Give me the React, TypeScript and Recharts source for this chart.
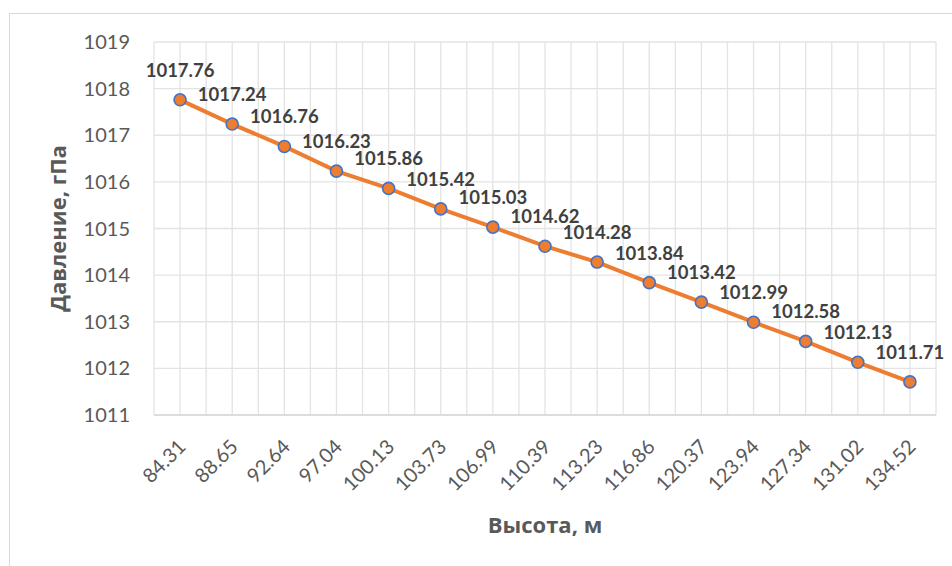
import { CartesianGrid, LabelList, Line, LineChart, XAxis, YAxis } from 'recharts';

const heights = [
  '84.31', '88.65', '92.64', '97.04', '100.13', '103.73', '106.99', '110.39',
  '113.23', '116.86', '120.37', '123.94', '127.34', '131.02', '134.52',
];
const pressures = [
  1017.76, 1017.24, 1016.76, 1016.23, 1015.86, 1015.42, 1015.03, 1014.62,
  1014.28, 1013.84, 1013.42, 1012.99, 1012.58, 1012.13, 1011.71,
];
const pressureTicks = [1011, 1012, 1013, 1014, 1015, 1016, 1017, 1018, 1019];

const data = heights.map((height, idx) => ({ idx, height, pressure: pressures[idx] }));
// category centres plus the boundaries between them (for the grid)
const xTicks = [...heights.flatMap((_, i) => [i - 0.5, i]), heights.length - 0.5];

const TICK_FONT = 'Lato, "Open Sans", sans-serif';
const TITLE_FONT = '"Open Sans", "Noto Sans", sans-serif';

function HeightTick({ x, y, payload }: { x: number; y: number; payload: { value: number } }) {
  if (!Number.isInteger(payload.value)) return <g />;
  return (
    <g transform={`translate(${x + 7},${y + 33})`}>
      <text
        x={0}
        y={0}
        textAnchor="end"
        transform="rotate(-45)"
        fill="#595959"
        fontSize={20}
        fontFamily={TICK_FONT}
      >
        {heights[payload.value]}
      </text>
    </g>
  );
}

export default function App() {
  return (
    <div style={{ position: 'absolute', left: 0, top: 0, width: 952, height: 566, background: '#fff' }}>
      <div
        style={{
          position: 'absolute',
          left: 9,
          top: 13,
          right: 0,
          bottom: 0,
          borderLeft: '1.5px solid #d9d9d9',
          borderTop: '1.5px solid #d9d9d9',
        }}
      />
      <LineChart
        width={952}
        height={566}
        data={data}
        margin={{ top: 42, right: 16, bottom: 0, left: 0 }}
        style={{ position: 'absolute', left: 0, top: 0 }}
      >
        <CartesianGrid stroke="#e3e3e3" strokeWidth={1.3} />
        <XAxis
          dataKey="idx"
          type="number"
          domain={[-0.5, heights.length - 0.5]}
          ticks={xTicks}
          interval={0}
          height={151}
          tickLine={false}
          tickSize={0}
          tickMargin={0}
          axisLine={{ stroke: '#d9d9d9', strokeWidth: 1.5 }}
          tick={HeightTick}
          label={{
            value: 'Высота, м',
            position: 'insideBottom',
            offset: 33,
            fill: '#595959',
            fontSize: 22,
            fontWeight: 700,
            fontFamily: TITLE_FONT,
          }}
        />
        <YAxis
          type="number"
          domain={[1011, 1019]}
          ticks={pressureTicks}
          interval={0}
          width={154}
          axisLine={false}
          tickLine={false}
          tickSize={0}
          tickMargin={24}
          tick={{ fill: '#595959', fontSize: 20, fontFamily: TICK_FONT }}
          label={{
            value: 'Давление, гПа',
            angle: -90,
            position: 'insideLeft',
            offset: 58,
            fill: '#595959',
            fontSize: 22,
            fontWeight: 700,
            fontFamily: TITLE_FONT,
            style: { textAnchor: 'middle' },
          }}
        />
        <Line
          type="linear"
          dataKey="pressure"
          stroke="#ED7D31"
          strokeWidth={4}
          dot={{ r: 6, fill: '#ED7D31', stroke: '#4472C4', strokeWidth: 1.6 }}
          activeDot={false}
          isAnimationActive={false}
        >
          <LabelList
            dataKey="pressure"
            position="top"
            offset={23}
            fill="#404040"
            fontSize={18.5}
            fontWeight={700}
            fontFamily={TICK_FONT}
          />
        </Line>
      </LineChart>
    </div>
  );
}
